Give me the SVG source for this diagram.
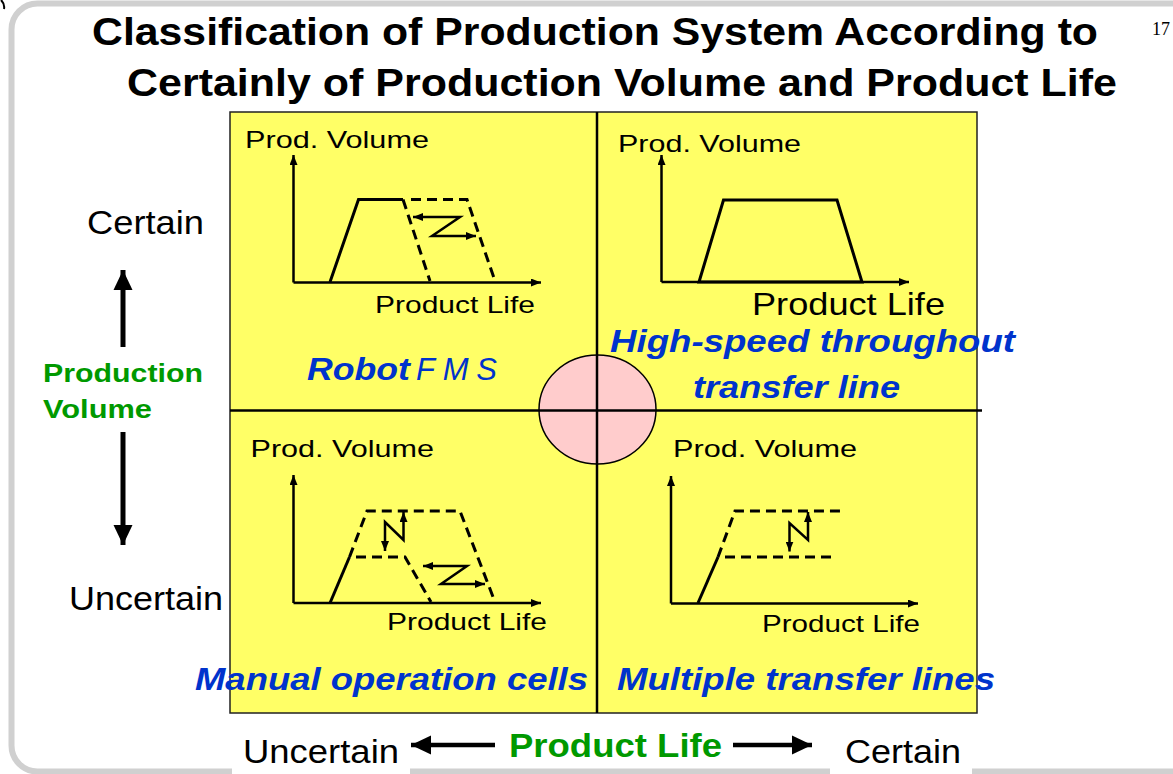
<svg xmlns="http://www.w3.org/2000/svg" width="1173" height="774" viewBox="0 0 1173 774">
<defs>
<marker id="ah" markerUnits="userSpaceOnUse" markerWidth="10" markerHeight="8" refX="10" refY="4" orient="auto-start-reverse" viewBox="0 0 10 8"><path d="M0,0 L10,4 L0,8 z" fill="#000"/></marker>
<marker id="big" markerUnits="userSpaceOnUse" markerWidth="20" markerHeight="20" refX="20" refY="10" orient="auto-start-reverse" viewBox="0 0 20 20"><path d="M0,0.5 L20,10 L0,19.5 z" fill="#000"/></marker>
<style>
.t{font-family:"Liberation Sans",Arial,sans-serif;fill:#000}
.title{font-size:39px;font-weight:bold}
.ax{font-size:24.5px}
.side{font-size:34px}
.green{font-family:"Liberation Sans",Arial,sans-serif;font-weight:bold;fill:#009900}
.blue{font-family:"Liberation Sans",Arial,sans-serif;font-weight:bold;font-style:italic;fill:#0033cc;font-size:31px}
.axis{stroke:#000;stroke-width:2.5;fill:none;marker-end:url(#ah)}
.solid{stroke:#000;stroke-width:3;fill:none;stroke-linejoin:miter}
.dash{stroke:#000;stroke-width:3;fill:none;stroke-dasharray:10 6}
.dbl{stroke:#000;stroke-width:2.5;fill:none;marker-start:url(#ah);marker-end:url(#ah)}
.div{stroke:#000;stroke-width:2.5}
</style>
</defs>
<rect width="1173" height="774" fill="#fff"/>
<rect x="11.5" y="3.5" width="1200" height="768" rx="26" ry="26" fill="#fff" stroke="#d0d0d0" stroke-width="6"/>
<path d="M1,0 Q5,4 4,9" stroke="#000" stroke-width="2" fill="none"/>
<rect x="232" y="725" width="178" height="49" fill="#fff"/>
<rect x="830" y="725" width="142" height="49" fill="#fff"/>

<g id="title">
<text class="t title" x="92" y="45" textLength="1006" lengthAdjust="spacingAndGlyphs">Classification of Production System According to</text>
<text class="t title" x="127" y="96" textLength="990" lengthAdjust="spacingAndGlyphs">Certainly of Production Volume and Product Life</text>
<text x="1152" y="35" style="font-family:'Liberation Serif','Times New Roman',serif;font-size:18px" fill="#000">17</text>
</g>

<g id="panel">
<rect x="230" y="112" width="747" height="601" fill="#ffff66" stroke="#222" stroke-width="1.5"/>
<ellipse cx="597.5" cy="409.5" rx="58.5" ry="54.5" fill="#ffcccc" stroke="#000" stroke-width="1.5"/>
<line class="div" x1="230" y1="410.5" x2="982" y2="410.5"/>
<line class="div" x1="597" y1="112" x2="597" y2="713"/>
</g>

<g id="q-robot-fms">
<text class="t ax" x="245" y="148" textLength="184" lengthAdjust="spacingAndGlyphs">Prod. Volume</text>
<path class="axis" d="M293.5,282.5 L293.5,155"/>
<path class="axis" d="M293.5,282.5 L541,282.5"/>
<path class="solid" d="M330,282 L358.5,199.5 L403,199.5"/>
<path class="dash" d="M403,199.5 L430,281"/>
<path class="dash" d="M411,199.5 L467,199.5 L495,281"/>
<path class="dbl" d="M413,217 L460,217 L432,236 L476,236"/>
<text class="t ax" x="375" y="313" textLength="160" lengthAdjust="spacingAndGlyphs">Product Life</text>
<text class="blue" x="307" y="380"><tspan textLength="103" lengthAdjust="spacingAndGlyphs">Robot</tspan><tspan x="416" textLength="81" lengthAdjust="spacing" style="font-weight:normal">FMS</tspan></text>
</g>

<g id="q-transfer-line">
<text class="t ax" x="618" y="151.5" textLength="183" lengthAdjust="spacingAndGlyphs">Prod. Volume</text>
<path class="axis" d="M661.5,282 L661.5,155"/>
<path class="axis" d="M661.5,282 L909,282"/>
<path class="solid" d="M699,282 L723.5,200 L837,200 L862,282 Z"/>
<text class="t" x="752" y="315" style="font-size:32px" textLength="193" lengthAdjust="spacingAndGlyphs">Product Life</text>
<text class="blue" x="610" y="352" textLength="405" lengthAdjust="spacingAndGlyphs">High-speed throughout</text>
<text class="blue" x="693" y="398" textLength="207" lengthAdjust="spacingAndGlyphs">transfer line</text>
</g>

<g id="q-manual-cells">
<text class="t ax" x="250.5" y="456.5" textLength="183.5" lengthAdjust="spacingAndGlyphs">Prod. Volume</text>
<path class="axis" d="M293.5,603 L293.5,475"/>
<path class="axis" d="M293.5,603 L541,603"/>
<path class="solid" d="M330,603 L349.5,557"/>
<path class="dash" d="M349.5,557 L367,511 L460,511 L495,602"/>
<path class="dash" d="M356,557 L405,557 L431,602"/>
<path class="dbl" d="M385,551 L385,522 L403.5,540 L403.5,512"/>
<path class="dbl" d="M423,566 L467,566 L441,584 L485,584"/>
<text class="t ax" x="387" y="630" textLength="160" lengthAdjust="spacingAndGlyphs">Product Life</text>
<text class="blue" x="195" y="690" textLength="393" lengthAdjust="spacingAndGlyphs">Manual operation cells</text>
</g>

<g id="q-multiple-lines">
<text class="t ax" x="673" y="456.5" textLength="184" lengthAdjust="spacingAndGlyphs">Prod. Volume</text>
<path class="axis" d="M671,603.5 L671,476"/>
<path class="axis" d="M671,603.5 L918,603.5"/>
<path class="solid" d="M698,603 L718,557"/>
<path class="dash" d="M718,557 L735,511 L845,511"/>
<path class="dash" d="M725,557 L836,557"/>
<path class="dbl" d="M789.5,551.5 L789.5,523 L808,540 L808,512"/>
<text class="t ax" x="762" y="631.5" textLength="158" lengthAdjust="spacingAndGlyphs">Product Life</text>
<text class="blue" x="617" y="690" textLength="378" lengthAdjust="spacingAndGlyphs">Multiple transfer lines</text>
</g>

<g id="axis-volume">
<text class="t side" x="87" y="234" textLength="117" lengthAdjust="spacingAndGlyphs">Certain</text>
<text class="green" x="43" y="382" style="font-size:26px" textLength="160" lengthAdjust="spacingAndGlyphs">Production</text>
<text class="green" x="43" y="418" style="font-size:26px" textLength="109" lengthAdjust="spacingAndGlyphs">Volume</text>
<text class="t side" x="69" y="610" textLength="154" lengthAdjust="spacingAndGlyphs">Uncertain</text>
</g>

<g id="axis-life">
<text class="t side" x="243" y="763" textLength="156" lengthAdjust="spacingAndGlyphs">Uncertain</text>
<text class="green" x="509" y="757" style="font-size:34px" textLength="213" lengthAdjust="spacingAndGlyphs">Product Life</text>
<text class="t side" x="845" y="763" textLength="116" lengthAdjust="spacingAndGlyphs">Certain</text>
</g>

<g id="connectors">
<line x1="123" y1="347" x2="123" y2="270" stroke="#000" stroke-width="5" marker-end="url(#big)"/>
<line x1="123" y1="432" x2="123" y2="545" stroke="#000" stroke-width="5" marker-end="url(#big)"/>
<line x1="495" y1="745" x2="411" y2="745" stroke="#000" stroke-width="4.5" marker-end="url(#big)"/>
<line x1="733" y1="745" x2="812" y2="745" stroke="#000" stroke-width="4.5" marker-end="url(#big)"/>
</g>
</svg>
